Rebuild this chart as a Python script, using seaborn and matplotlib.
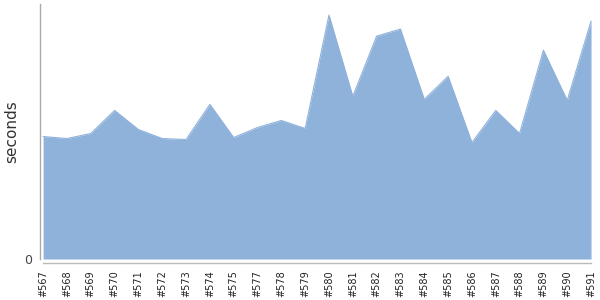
import matplotlib
matplotlib.use("Agg")
import matplotlib.pyplot as plt
import seaborn as sns
import pandas as pd

builds = ["#567", "#568", "#569", "#570", "#571", "#572", "#573", "#574", "#575",
          "#577", "#578", "#579", "#580", "#581", "#582", "#583", "#584", "#585",
          "#586", "#587", "#588", "#589", "#590", "#591"]
seconds = [122, 120, 125, 148, 129, 120, 119, 154, 121,
           131, 138, 130, 243, 162, 222, 229, 159, 182,
           116, 148, 125, 208, 158, 237]

df = pd.DataFrame({"build": builds, "seconds": seconds})
df["pos"] = range(len(df))

sns.set_style("white")
fig = plt.figure(figsize=(6, 3), dpi=100)
ax = fig.add_axes([40 / 600, 1 - 259 / 300, 552 / 600, 255 / 300])

color = "#8fb2db"
ax.fill_between(df["pos"], df["seconds"], 0, color=color, linewidth=0)
sns.lineplot(data=df, x="pos", y="seconds", ax=ax, color=color, linewidth=0.8)

ax.set_xlim(-0.13, len(df) - 1 + 0.04)
ax.set_ylim(0, 254)
ax.set_yticks([0])
ax.set_yticklabels(["0"])
ax.set_xticks(list(df["pos"]))
ax.set_xticklabels(list(df["build"]))
ax.set_xlabel("")
ax.set_ylabel("seconds", fontsize=11, color="#333333")
ax.yaxis.set_label_coords(-21 / 552, 0.5)

for s in ["top", "right"]:
    ax.spines[s].set_visible(False)
ax.spines["left"].set_color("#aaaaaa")
ax.spines["left"].set_linewidth(1)
ax.spines["bottom"].set_color("#bbbbbb")
ax.spines["bottom"].set_linewidth(1)
ax.spines["bottom"].set_position(("outward", 3))
ax.spines["bottom"].set_bounds(0, len(df) - 1)
ax.tick_params(axis="x", length=3, width=0.8, color="#bbbbbb", pad=2,
               labelrotation=90, labelsize=7, labelcolor="#222222")
ax.tick_params(axis="y", length=3, width=0.8, color="#bbbbbb", labelsize=9,
               labelcolor="#444444", pad=3)

fig.savefig("out.png", dpi=100)
